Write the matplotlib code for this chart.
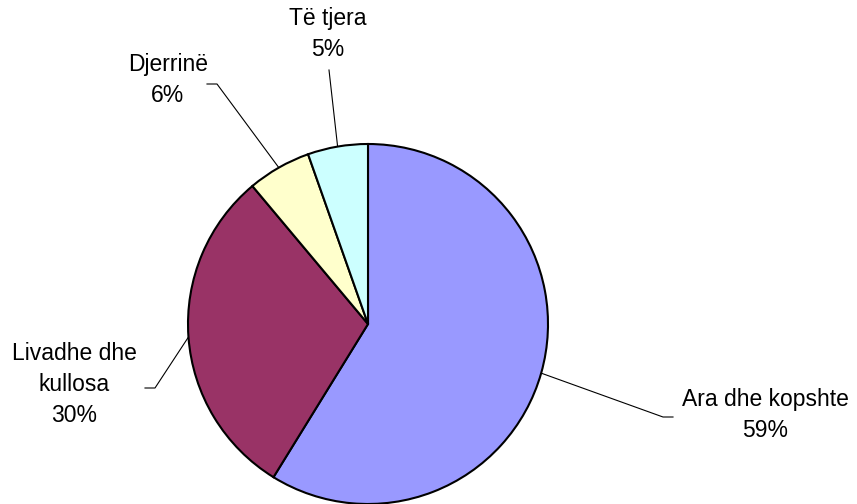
import matplotlib
matplotlib.use("Agg")
import matplotlib.pyplot as plt
import numpy as np

categories = ["Ara dhe kopshte", "Livadhe dhe\nkullosa", "Djerrinë", "Të tjera"]
values = [58.8, 30.1, 5.7, 5.4]
colors = ["#9999FF", "#993366", "#FFFFCC", "#CCFFFF"]

W, H = 857, 504
fig = plt.figure(figsize=(W / 100, H / 100), dpi=100)
ax = fig.add_axes([0, 0, 1, 1])

cx, cy, r = 368, H - 324, 180
wedges, _ = ax.pie(values, colors=colors, startangle=90, counterclock=False,
                   center=(cx, cy), radius=r,
                   wedgeprops=dict(edgecolor="black", linewidth=1.5),
                   frame=True)
ax.set_xlim(0, W)
ax.set_ylim(0, H)
ax.set_aspect("equal")
ax.axis("off")

total = sum(values)
# label layout (pixel coords from top): text center x, last-line baseline y, leader elbow, leader end
layout = [
    dict(tx=765, ty=437, elbow=(663, 417), end=(673, 417)),
    dict(tx=74, ty=422, elbow=(155, 388), end=(145, 388)),
    dict(tx=168, ty=102, elbow=(217, 84), end=(207, 84)),
    dict(tx=328, ty=56, elbow=(329, 70), end=None),
]

for w, cat, v, lay in zip(wedges, categories, values, layout):
    mid = np.deg2rad((w.theta1 + w.theta2) / 2)
    px, py = cx + r * np.cos(mid), cy + r * np.sin(mid)
    xs = [px, lay["elbow"][0]]
    ys = [py, H - lay["elbow"][1]]
    if lay["end"] is not None:
        xs.append(lay["end"][0])
        ys.append(H - lay["end"][1])
    ax.plot(xs, ys, color="black", linewidth=0.8, zorder=0)
    pct = round(v / total * 100)
    ax.text(lay["tx"], H - lay["ty"], f"{cat}\n{pct}%", ha="center", va="baseline",
            fontsize=16.5, family=["Liberation Sans", "DejaVu Sans"],
            linespacing=1.45, multialignment="center")

fig.savefig("out.png", dpi=100, facecolor="white")
